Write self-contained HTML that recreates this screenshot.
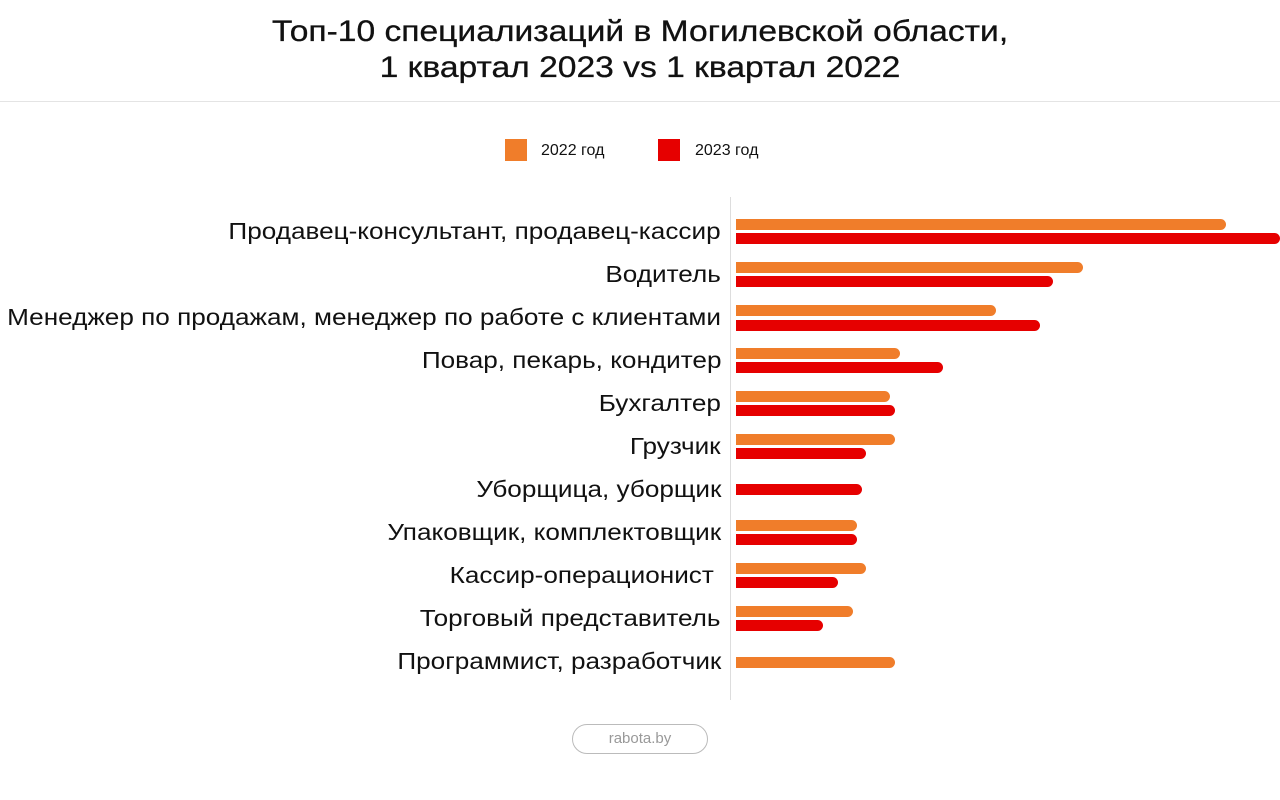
<!DOCTYPE html><html><head><meta charset="utf-8"><style>
body{margin:0;width:1280px;height:800px;background:#fff;font-family:"Liberation Sans",sans-serif;position:relative;overflow:hidden;color:#111}
.t{position:absolute;left:0;width:1280px;text-align:center;font-size:30px;line-height:36px;transform:scaleX(1.12);transform-origin:640px 0;-webkit-text-stroke:0.3px #111}
.l{position:absolute;right:559px;font-size:23.5px;white-space:nowrap;line-height:26px;transform:scaleX(1.112);transform-origin:100% 50%}
.b{position:absolute;left:736px;height:11px;border-radius:0 6px 6px 0}
.o{background:#f07d2a}.r{background:#e60000}
</style></head><body>
<div class="t" style="top:14px">Топ-10 специализаций в Могилевской области,</div>
<div class="t" style="top:50px">1 квартал 2023 vs 1 квартал 2022</div>
<div style="position:absolute;left:0;top:101px;width:1280px;height:1px;background:#e4e4e4"></div>
<div style="position:absolute;left:505px;top:139px;width:22px;height:22px;background:#f07d2a"></div>
<div style="position:absolute;left:541px;top:142px;font-size:16px">2022 год</div>
<div style="position:absolute;left:658px;top:139px;width:22px;height:22px;background:#e60000"></div>
<div style="position:absolute;left:695px;top:142px;font-size:16px">2023 год</div>
<div style="position:absolute;left:730px;top:197px;width:1px;height:503px;background:#ddd"></div>
<div class="l" style="top:218px">Продавец-консультант, продавец-кассир</div>
<div class="l" style="top:261px">Водитель</div>
<div class="l" style="top:304px">Менеджер по продажам, менеджер по работе с клиентами</div>
<div class="l" style="top:347px">Повар, пекарь, кондитер</div>
<div class="l" style="top:390px">Бухгалтер</div>
<div class="l" style="top:433px">Грузчик</div>
<div class="l" style="top:476px">Уборщица, уборщик</div>
<div class="l" style="top:519px">Упаковщик, комплектовщик</div>
<div class="l" style="top:562px">Кассир-операционист&nbsp;</div>
<div class="l" style="top:605px">Торговый представитель</div>
<div class="l" style="top:648px">Программист, разработчик</div>
<div class="b o" style="top:219px;width:490px"></div><div class="b r" style="top:233px;width:544px"></div>
<div class="b o" style="top:262px;width:347px"></div><div class="b r" style="top:276px;width:317px"></div>
<div class="b o" style="top:305px;width:260px"></div><div class="b r" style="top:320px;width:304px"></div>
<div class="b o" style="top:348px;width:164px"></div><div class="b r" style="top:362px;width:207px"></div>
<div class="b o" style="top:391px;width:154px"></div><div class="b r" style="top:405px;width:159px"></div>
<div class="b o" style="top:434px;width:159px"></div><div class="b r" style="top:448px;width:130px"></div>
<div class="b r" style="top:484px;width:126px"></div>
<div class="b o" style="top:520px;width:121px"></div><div class="b r" style="top:534px;width:121px"></div>
<div class="b o" style="top:563px;width:130px"></div><div class="b r" style="top:577px;width:102px"></div>
<div class="b o" style="top:606px;width:117px"></div><div class="b r" style="top:620px;width:87px"></div>
<div class="b o" style="top:657px;width:159px"></div>
<div style="position:absolute;left:572px;top:724px;width:134px;height:28px;border:1px solid #bbb;border-radius:15px;text-align:center;line-height:28px;font-size:15px;color:#999">rabota.by</div>
</body></html>
